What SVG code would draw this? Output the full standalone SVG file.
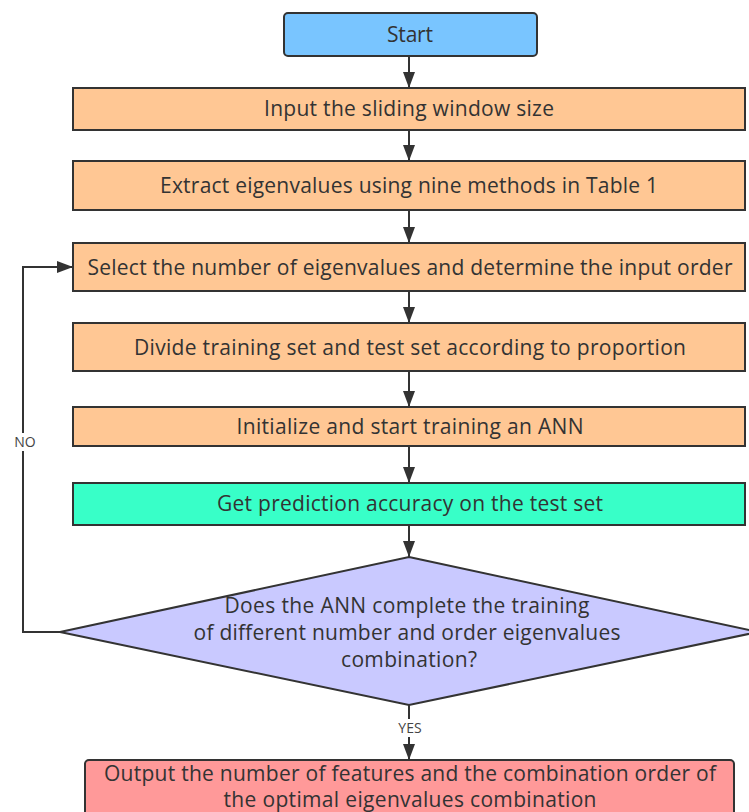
<svg xmlns="http://www.w3.org/2000/svg" width="749" height="812" viewBox="0 0 749 812">
  <defs>
    <marker id="arrow" viewBox="0 0 16 12" refX="16" refY="6" markerWidth="16" markerHeight="12" markerUnits="userSpaceOnUse" orient="auto">
      <path d="M0,0 L16,6 L0,12 z" fill="#333"/>
    </marker>
    <style>
      .box { stroke: #333; stroke-width: 2; }
      .step { fill: #ffc794; }
      .lbl { font-family: "Open Sans", "Noto Sans", sans-serif; font-size: 21px; fill: #333; text-anchor: middle; }
      .small { font-family: "Open Sans", "Noto Sans", sans-serif; font-size: 14px; fill: #444; text-anchor: middle; }
      .edge { fill: none; stroke: #333; stroke-width: 2; marker-end: url(#arrow); }
    </style>
  </defs>
  <rect width="749" height="812" fill="#fff"/>

  <g id="connectors">
    <line class="edge" x1="409" y1="56" x2="409" y2="88"/>
    <line class="edge" x1="409" y1="130" x2="409" y2="161"/>
    <line class="edge" x1="409" y1="210" x2="409" y2="243"/>
    <line class="edge" x1="409" y1="291" x2="409" y2="323"/>
    <line class="edge" x1="409" y1="371" x2="409" y2="407"/>
    <line class="edge" x1="409" y1="446" x2="409" y2="483"/>
    <line class="edge" x1="409" y1="525" x2="409" y2="557"/>
    <path class="edge" d="M409,705 V760"/>
    <rect x="393" y="719" width="32" height="18" fill="#fff"/>
    <text class="small" x="410" y="733">YES</text>
    <path class="edge" d="M60,632 H23 V267 H73"/>
    <rect x="9" y="433" width="32" height="18" fill="#fff"/>
    <text class="small" x="25" y="447">NO</text>
  </g>

  <g id="start">
    <rect class="box" x="284" y="13" width="253" height="43" rx="4" fill="#79c5ff"/>
    <text class="lbl" x="410" y="42" textLength="46" lengthAdjust="spacing">Start</text>
  </g>
  <g id="window-size">
    <rect class="box step" x="73" y="88" width="672" height="42"/>
    <text class="lbl" x="409" y="116" textLength="290" lengthAdjust="spacing">Input the sliding window size</text>
  </g>
  <g id="extract">
    <rect class="box step" x="73" y="161" width="672" height="49"/>
    <text class="lbl" x="409" y="193" textLength="498" lengthAdjust="spacing">Extract eigenvalues using nine methods in Table 1</text>
  </g>
  <g id="select">
    <rect class="box step" x="73" y="243" width="672" height="48"/>
    <text class="lbl" x="410" y="275" textLength="645" lengthAdjust="spacing">Select the number of eigenvalues and determine the input order</text>
  </g>
  <g id="divide">
    <rect class="box step" x="73" y="323" width="672" height="48"/>
    <text class="lbl" x="410" y="355" textLength="552" lengthAdjust="spacing">Divide training set and test set according to proportion</text>
  </g>
  <g id="train">
    <rect class="box step" x="73" y="407" width="672" height="39"/>
    <text class="lbl" x="410" y="434" textLength="347" lengthAdjust="spacing">Initialize and start training an ANN</text>
  </g>
  <g id="accuracy">
    <rect class="box" x="73" y="483" width="672" height="42" fill="#38ffc8"/>
    <text class="lbl" x="410" y="511" textLength="386" lengthAdjust="spacing">Get prediction accuracy on the test set</text>
  </g>
  <g id="decision">
    <polygon class="box" points="409,557 758,632 409,705 60,632" fill="#c9c9ff"/>
    <text class="lbl" x="407" y="613" textLength="365" lengthAdjust="spacing">Does the ANN complete the training</text>
    <text class="lbl" x="407" y="640" textLength="427" lengthAdjust="spacing">of different number and order eigenvalues</text>
    <text class="lbl" x="409" y="667" textLength="136" lengthAdjust="spacing">combination?</text>
  </g>
  <g id="output">
    <rect class="box" x="85" y="760" width="649" height="70" rx="4" fill="#ff9999"/>
    <text class="lbl" x="410" y="781" textLength="612" lengthAdjust="spacing">Output the number of features and the combination order of</text>
    <text class="lbl" x="410" y="807" textLength="373" lengthAdjust="spacing">the optimal eigenvalues combination</text>
  </g>
</svg>
